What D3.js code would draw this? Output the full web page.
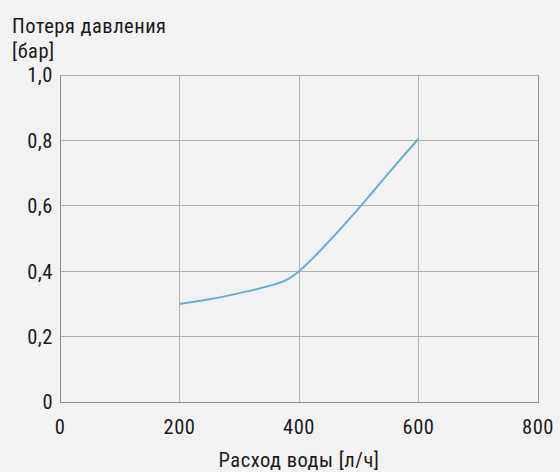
<!DOCTYPE html>
<html><head><meta charset="utf-8">
<script src="https://cdn.jsdelivr.net/npm/d3@7"></script>
<style>
html,body{margin:0;padding:0;background:#f2f2f2;}
svg{display:block;font-family:"Roboto Condensed","Liberation Sans Narrow","DejaVu Sans Condensed",sans-serif;}
</style></head><body>
<svg id="c" width="560" height="472"></svg>
<script>
const flowValues = [200, 250, 300, 350, 380, 400, 425, 450, 475, 500, 525, 550, 575, 600];
const pressureLoss = [0.30, 0.314, 0.333, 0.355, 0.374, 0.40, 0.443, 0.491, 0.541, 0.592, 0.646, 0.70, 0.753, 0.805];
const xTicks = [0, 200, 400, 600, 800];
const yTicks = [0, 0.2, 0.4, 0.6, 0.8, 1.0];
const yTickLabels = ["0", "0,2", "0,4", "0,6", "0,8", "1,0"];
const yTitle = ["Потеря давления", "[бар]"];
const xTitle = "Расход воды [л/ч]";

const svg = d3.select("#c");
const m = {left: 60, right: 538, top: 75, bottom: 402};
const x = d3.scaleLinear().domain([0, 800]).range([m.left, m.right]);
const y = d3.scaleLinear().domain([0, 1]).range([m.bottom, m.top]);
const fs = 20.5;
const ls = "0.5px";

// grid
svg.append("g").selectAll("line").data(xTicks).join("line")
  .attr("x1", d => x(d)).attr("x2", d => x(d)).attr("y1", m.top).attr("y2", m.bottom)
  .attr("stroke", "#b2b2b2").attr("stroke-width", 1).attr("shape-rendering", "crispEdges");
svg.append("g").selectAll("line").data(yTicks).join("line")
  .attr("x1", m.left).attr("x2", m.right).attr("y1", d => y(d)).attr("y2", d => y(d))
  .attr("stroke", "#b2b2b2").attr("stroke-width", 1).attr("shape-rendering", "crispEdges");
// frame: left, bottom, right darker
svg.append("path")
  .attr("d", `M${x(0)},${y(1)}V${y(0)}H${x(800)}V${y(1)}`)
  .attr("fill", "none").attr("stroke", "#8f8f8f").attr("stroke-width", 1).attr("shape-rendering", "crispEdges");

// y tick labels
svg.append("g").selectAll("text").data(yTicks).join("text")
  .attr("x", 53).attr("y", d => y(d)).attr("dy", "0.36em")
  .attr("text-anchor", "end").attr("font-size", fs).attr("letter-spacing", ls).attr("fill", "#1a1a1a")
  .text((d, i) => yTickLabels[i]);
// x tick labels
svg.append("g").selectAll("text").data(xTicks).join("text")
  .attr("x", d => x(d)).attr("y", 434)
  .attr("text-anchor", "middle").attr("font-size", fs).attr("letter-spacing", ls).attr("fill", "#1a1a1a")
  .text(d => d);

// titles
svg.append("g").selectAll("text").data(yTitle).join("text")
  .attr("x", 12).attr("y", (d, i) => 33 + i * 25)
  .attr("font-size", fs).attr("letter-spacing", ls).attr("fill", "#1a1a1a").text(d => d);
svg.append("text").attr("x", x(400)).attr("y", 467)
  .attr("text-anchor", "middle").attr("font-size", fs).attr("letter-spacing", ls).attr("fill", "#1a1a1a").text(xTitle);

// curve
const pts = flowValues.map((v, i) => [v, pressureLoss[i]]);
svg.append("path").datum(pts)
  .attr("d", d3.line().x(d => x(d[0])).y(d => y(d[1])).curve(d3.curveMonotoneX))
  .attr("fill", "none").attr("stroke", "#6aaed0").attr("stroke-width", 2);
</script>
</body></html>
